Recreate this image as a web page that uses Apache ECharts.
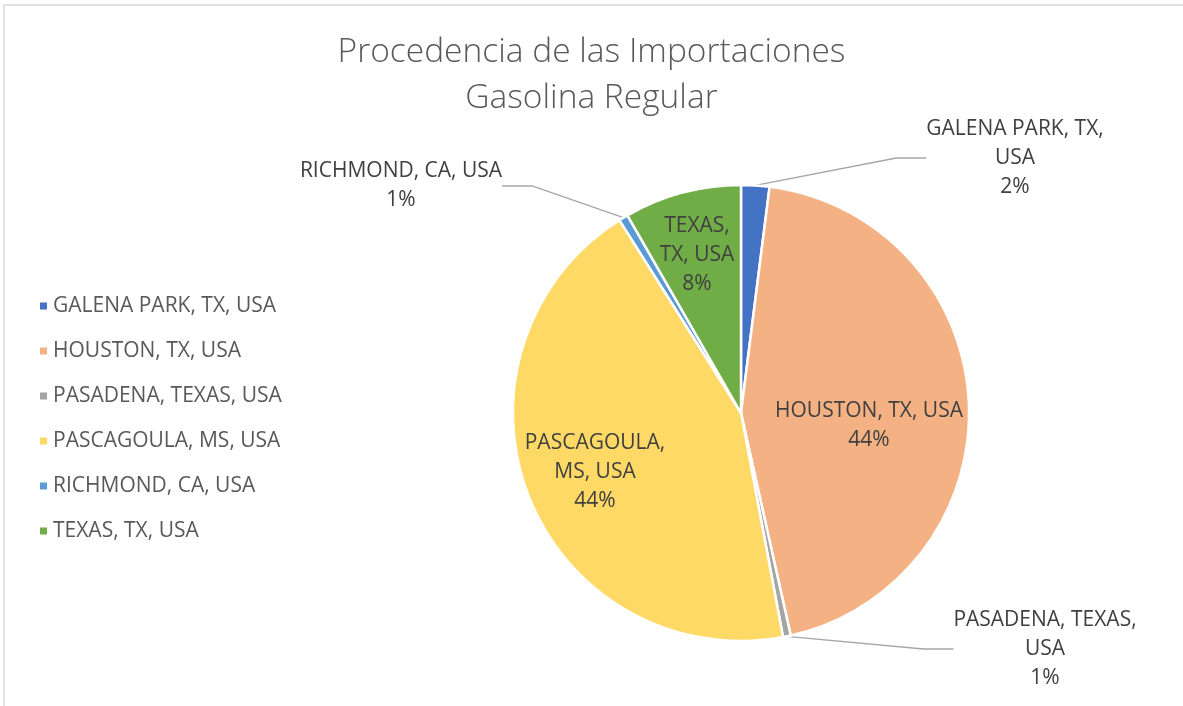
<!DOCTYPE html>
<html>
<head>
<meta charset="utf-8">
<title>Procedencia de las Importaciones</title>
<script src="https://cdn.jsdelivr.net/npm/echarts@6/dist/echarts.min.js"></script>
<style>
  html, body { margin: 0; padding: 0; background: #fff; }
  #chart { width: 1183px; height: 706px; }
</style>
</head>
<body>
<div id="chart"></div>
<script>
// origen de las importaciones (participacion aprox. en %)
const origins = ['GALENA PARK, TX, USA', 'HOUSTON, TX, USA', 'PASADENA, TEXAS, USA', 'PASCAGOULA, MS, USA', 'RICHMOND, CA, USA', 'TEXAS, TX, USA']
const shares = [2.0, 44.5, 0.55, 44.0, 0.65, 8.3]
// etiquetas con el corte de linea de Excel
const labelNames = ['GALENA PARK, TX,\nUSA', 'HOUSTON, TX, USA', 'PASADENA, TEXAS,\nUSA', 'PASCAGOULA,\nMS, USA', 'RICHMOND, CA, USA', 'TEXAS,\nTX, USA']
const insideLabel = [false, true, false, true, false, true]

const colors = ['#4472C4', '#F4B183', '#A5A5A5', '#FFD966', '#5B9BD5', '#70AD47']

// donde Excel dejo cada etiqueta (centro del texto)
const labelSpots = [[1015, 158], [869, 426], [1045, 649], [595, 472], [401, 186], [697, 255]]

const chart = echarts.init(document.getElementById('chart'))

chart.setOption({
  color: colors,
  textStyle: { fontFamily: 'Open Sans' },
  title: {
    text: 'Procedencia de las Importaciones\nGasolina Regular',
    left: 'center',
    top: 24,
    textStyle: {
      fontFamily: 'Open Sans',
      fontWeight: 300,
      fontSize: 33.5,
      lineHeight: 46,
      color: '#595959'
    }
  },
  legend: {
    orient: 'vertical',
    left: 33,
    top: 290,
    icon: 'rect',
    itemWidth: 9,
    itemHeight: 9,
    itemGap: 23,
    data: origins,
    textStyle: { fontSize: 21, lineHeight: 22, color: '#595959' }
  },
  graphic: [{
    type: 'rect',
    shape: { x: 4, y: 5, width: 1200, height: 720 },
    style: { fill: 'none', stroke: '#d9d9d9', lineWidth: 1.5 },
    silent: true
  }],
  series: [{
    type: 'pie',
    center: [741, 413],
    radius: 228,
    startAngle: 90,
    clockwise: true,
    percentPrecision: 0,
    avoidLabelOverlap: false,
    itemStyle: { borderColor: '#fff', borderWidth: 2.5 },
    label: {
      color: '#404040',
      fontSize: 21,
      lineHeight: 29,
      align: 'center',
      formatter: p => labelNames[p.dataIndex] + '\n' + p.percent + '%'
    },
    labelLine: {
      lineStyle: { color: '#a6a6a6', width: 1.3 }
    },
    labelLayout: p => ({
      x: labelSpots[p.dataIndex][0],
      y: labelSpots[p.dataIndex][1],
      align: 'center',
      verticalAlign: 'middle'
    }),
    emphasis: { disabled: true },
    data: origins.map((name, i) => ({
      name: name,
      value: shares[i],
      label: { position: insideLabel[i] ? 'inside' : 'outside' },
      labelLine: { show: !insideLabel[i] }
    }))
  }]
})
</script>
</body>
</html>
